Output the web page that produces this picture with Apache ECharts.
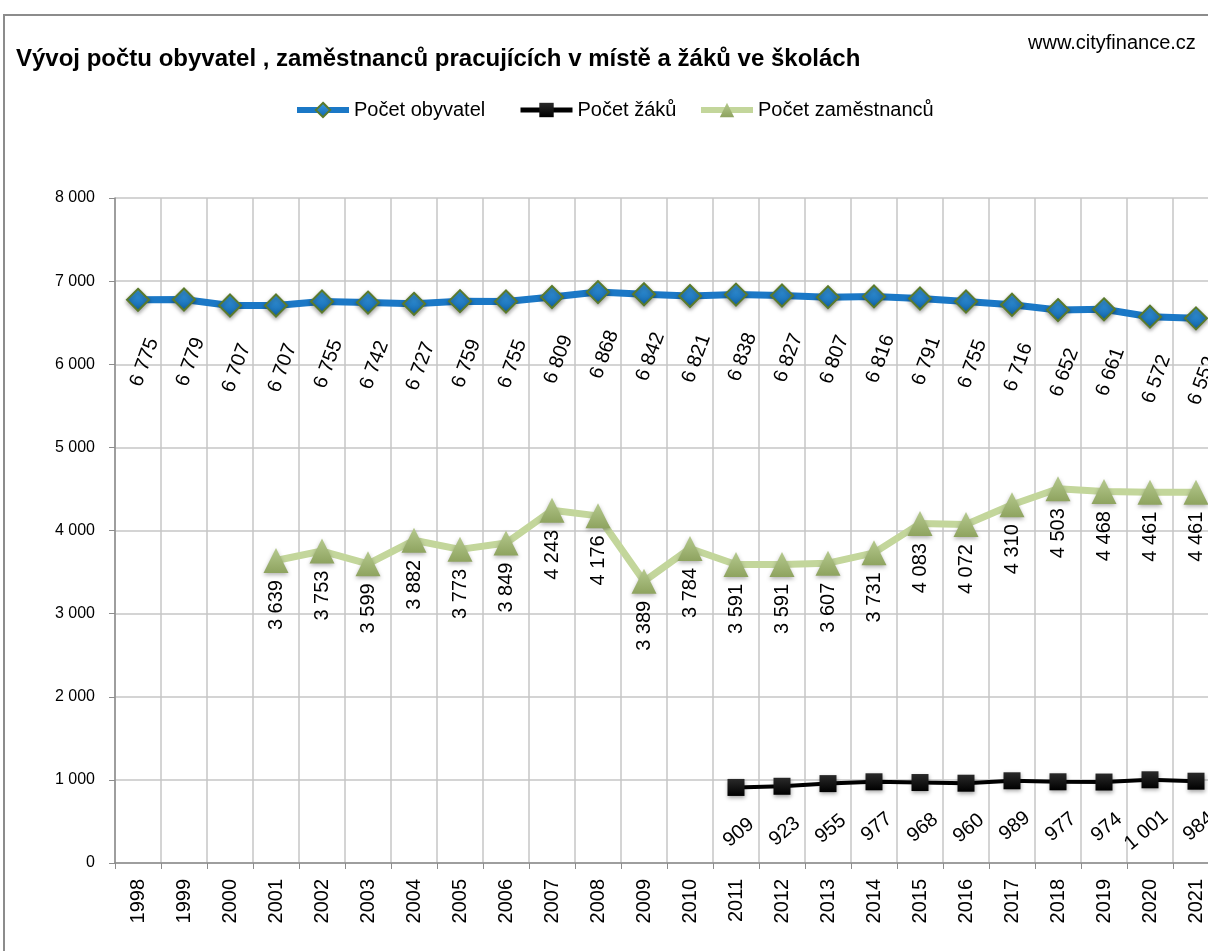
<!DOCTYPE html>
<html>
<head>
<meta charset="utf-8">
<script src="https://cdn.jsdelivr.net/npm/echarts@6/dist/echarts.min.js"></script>
<style>
  html, body { margin: 0; padding: 0; background: #fff; overflow: hidden; }
  #frame { position: absolute; left: 3px; top: 14px; width: 1300px; height: 1000px;
           border-left: 2px solid #8c8c8c; border-top: 2px solid #8c8c8c; }
  #main { position: absolute; left: 0; top: 0; width: 1240px; height: 951px; }
</style>
</head>
<body>
<div id="frame"></div>
<div id="main"></div>
<script>
// data
var years = ['1998','1999','2000','2001','2002','2003','2004','2005','2006','2007','2008','2009',
             '2010','2011','2012','2013','2014','2015','2016','2017','2018','2019','2020','2021'];
var obyvatele = [6775, 6779, 6707, 6707, 6755, 6742, 6727, 6759, 6755, 6809, 6868, 6842,
                 6821, 6838, 6827, 6807, 6816, 6791, 6755, 6716, 6652, 6661, 6572, 6552];
var zaci = [null, null, null, null, null, null, null, null, null, null, null, null,
            null, 909, 923, 955, 977, 968, 960, 989, 977, 974, 1001, 984];
var zamestnanci = [null, null, null, 3639, 3753, 3599, 3882, 3773, 3849, 4243, 4176, 3389,
                   3784, 3591, 3591, 3607, 3731, 4083, 4072, 4310, 4503, 4468, 4461, 4461];

var FONT = 'Liberation Sans, Arial, sans-serif';

// "6 775" style thousands
function fmt(v) {
  return String(v).replace(/\B(?=(\d{3})+(?!\d))/g, ' ');
}

function grad(top, bottom) {
  return { type: 'linear', x: 0, y: 0, x2: 0, y2: 1,
           colorStops: [{ offset: 0, color: top }, { offset: 1, color: bottom }] };
}

// one legend box per series so each sits where the original has it
function legendAt(name, left, lineWidth) {
  return {
    top: 100, left: left, padding: 0,
    itemWidth: 52, itemHeight: 18,
    textStyle: { fontSize: 20, color: '#000', fontFamily: FONT },
    lineStyle: { width: lineWidth },
    data: [name]
  };
}

var myChart = echarts.init(document.getElementById('main'));

var option = {
  animation: false,
  textStyle: { fontFamily: FONT },
  title: [
    {
      text: 'Vývoj počtu obyvatel , zaměstnanců pracujících v místě a žáků ve školách',
      left: 11, top: 42,
      textStyle: { fontSize: 24, fontWeight: 'bold', color: '#000', fontFamily: FONT }
    },
    {
      text: 'www.cityfinance.cz',
      left: 1023, top: 28,
      textStyle: { fontSize: 20, fontWeight: 'normal', color: '#000', fontFamily: FONT }
    }
  ],
  legend: [
    legendAt('Počet obyvatel', 294, 6),
    legendAt('Počet žáků', 518, 5),
    legendAt('Počet zaměstnanců', 698, 6)
  ],
  grid: { left: 115, right: 21, top: 198, bottom: 88 },
  xAxis: {
    type: 'category',
    data: years,
    boundaryGap: true,
    axisLine: { lineStyle: { color: '#8c8c8c', width: 1.5 } },
    axisTick: { show: true, interval: 0, length: 6, lineStyle: { color: '#8c8c8c' } },
    axisLabel: { interval: 0, rotate: 90, fontSize: 20, margin: 16, color: '#000' },
    splitLine: { show: true, interval: 0, lineStyle: { color: '#c6c6c6', width: 1.5 } }
  },
  yAxis: {
    type: 'value',
    min: 0, max: 8000, interval: 1000,
    axisLine: { show: true, lineStyle: { color: '#8c8c8c', width: 1.5 } },
    axisTick: { show: true, length: 6, lineStyle: { color: '#8c8c8c' } },
    axisLabel: { fontSize: 16, margin: 20, color: '#000', formatter: fmt },
    splitLine: { lineStyle: { color: '#c6c6c6', width: 1.5 } }
  },
  series: [
    {
      name: 'Počet obyvatel',
      type: 'line',
      data: obyvatele,
      symbol: 'diamond',
      symbolSize: 22,
      z: 3,
      lineStyle: { color: '#1b78c6', width: 7 },
      itemStyle: {
        color: grad('#3c9ee3', '#0f63aa'),
        borderColor: '#5a7a2c', borderWidth: 2,
        shadowColor: 'rgba(0,0,0,0.35)', shadowBlur: 4, shadowOffsetY: 2
      },
      label: {
        show: true, position: [27, 51], rotate: 70,
        align: 'right', verticalAlign: 'middle',
        fontSize: 20, color: '#000', formatter: function (p) { return fmt(p.value); }
      }
    },
    {
      name: 'Počet žáků',
      type: 'line',
      data: zaci,
      symbol: 'rect',
      symbolSize: 17,
      z: 3,
      lineStyle: { color: '#000', width: 4 },
      itemStyle: {
        color: grad('#2a2a2a', '#000'),
        shadowColor: 'rgba(0,0,0,0.35)', shadowBlur: 4, shadowOffsetY: 2
      },
      label: {
        show: true, position: [24, 43], rotate: 40,
        align: 'right', verticalAlign: 'middle',
        fontSize: 20, color: '#000', formatter: function (p) { return fmt(p.value); }
      }
    },
    {
      name: 'Počet zaměstnanců',
      type: 'line',
      data: zamestnanci,
      symbol: 'triangle',
      symbolSize: 25,
      z: 2,
      lineStyle: { color: '#c3d69b', width: 7 },
      itemStyle: {
        color: grad('#b5c98e', '#8ea35f'),
        shadowColor: 'rgba(0,0,0,0.3)', shadowBlur: 4, shadowOffsetY: 2
      },
      label: {
        show: true, position: [12.5, 32], rotate: 90,
        align: 'right', verticalAlign: 'middle',
        fontSize: 20, color: '#000', formatter: function (p) { return fmt(p.value); }
      }
    }
  ]
};

myChart.setOption(option);
</script>
</body>
</html>
